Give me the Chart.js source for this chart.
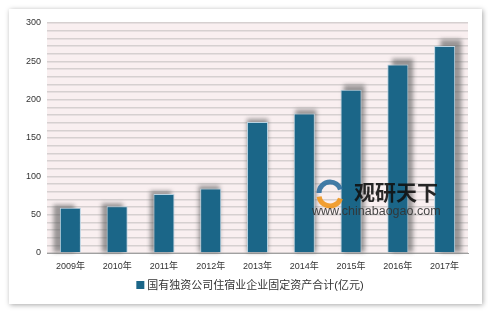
<!DOCTYPE html>
<html>
<head>
<meta charset="utf-8">
<script src="https://cdn.jsdelivr.net/npm/chart.js@4/dist/chart.umd.min.js"></script>
<style>
  html, body { margin: 0; padding: 0; background: #fff; }
  #wrap { width: 488px; height: 313px; position: relative; }
</style>
</head>
<body>
<div id="wrap"><canvas id="c" width="488" height="313"></canvas></div>
<script>
const years = ["2009年", "2010年", "2011年", "2012年", "2013年", "2014年", "2015年", "2016年", "2017年"];
const assets = [59, 61, 77, 84, 171, 182, 213, 246, 270];
const seriesName = "国有独资公司住宿业企业固定资产合计(亿元)";
const yMax = 300;
const yLabelStep = 50;

const barColor = "#1b6688";
const font = "'Liberation Sans', 'Noto Sans CJK SC', sans-serif";

// white card with soft grey edge + pink plot background
const backdrop = {
    id: "backdrop",
    beforeDraw(chart) {
        const c = chart.ctx;
        const a = chart.chartArea;
        c.save();
        c.fillStyle = "#fff";
        c.fillRect(0, 0, chart.width, chart.height);
        c.shadowColor = "rgba(0,0,0,0.35)";
        c.shadowBlur = 5;
        c.shadowOffsetX = 1;
        c.shadowOffsetY = 1;
        c.fillRect(9, 9, 473, 295);
        c.restore();
        c.fillStyle = "#f9eff0";
        c.fillRect(a.left, a.top, a.right - a.left, a.bottom - a.top);
    }
};

// slanted grey shadow behind each bar
const barShadow = {
    id: "barShadow",
    beforeDatasetsDraw(chart) {
        const c = chart.ctx;
        const meta = chart.getDatasetMeta(0);
        const mid = (meta.data.length - 1) / 2;
        c.save();
        c.filter = "blur(2px)";
        c.fillStyle = "rgba(90,90,90,0.6)";
        meta.data.forEach((bar, i) => {
            const dx = (i - mid) * 1.6;
            const dy = -3 - Math.max(0, i - mid) * 0.9;
            const w = bar.width;
            c.fillRect(bar.x - w / 2 + dx, bar.y + dy, w, bar.base - bar.y - dy);
        });
        c.restore();
    }
};

// legend + watermark
const extras = {
    id: "extras",
    afterDraw(chart) {
        const c = chart.ctx;
        c.save();
        c.font = "11px " + font;
        c.textBaseline = "middle";
        const tw = c.measureText(seriesName).width;
        const x0 = 250 - (tw + 11) / 2;
        c.fillStyle = barColor;
        c.fillRect(x0, 281, 8, 8);
        c.fillStyle = "#333";
        c.fillText(seriesName, x0 + 11, 285.5);

        // watermark
        c.globalAlpha = 0.9;
        c.lineWidth = 5;
        c.strokeStyle = "#2f6f9f";
        c.beginPath();
        c.arc(330, 193, 11, Math.PI * 1.0, Math.PI * 1.9);
        c.stroke();
        c.strokeStyle = "#f0961e";
        c.beginPath();
        c.arc(330, 195, 11, Math.PI * 0.1, Math.PI * 0.95);
        c.stroke();
        c.fillStyle = "#111";
        c.font = "bold 21px 'Noto Sans CJK SC', sans-serif";
        c.fillText("观研天下", 354, 192);
        c.fillStyle = "#333";
        c.font = "12.5px " + font;
        c.fillText("www.chinabaogao.com", 312, 212);
        c.restore();
    }
};

new Chart(document.getElementById("c"), {
    type: "bar",
    data: {
        labels: years,
        datasets: [{
            label: seriesName,
            data: assets,
            backgroundColor: barColor,
            borderColor: "#b9d3e2",
            borderWidth: 1,
            borderSkipped: "bottom",
            barPercentage: 0.9,
            categoryPercentage: 0.5
        }]
    },
    options: {
        responsive: false,
        animation: false,
        devicePixelRatio: 1,
        layout: { padding: { left: 10, right: 20, top: 23, bottom: 0 } },
        plugins: { legend: { display: false }, tooltip: { enabled: false } },
        scales: {
            x: {
                grid: { display: false, drawTicks: false },
                border: { color: "#a0a0a0", width: 1 },
                ticks: { color: "#333", font: { size: 9, family: font }, padding: 8 },
                afterFit(s) { s.height = 60; }
            },
            y: {
                min: 0,
                max: yMax,
                border: { display: false },
                grid: { color: "#d6d0d0", lineWidth: 1.5, drawTicks: false },
                ticks: {
                    stepSize: 10,
                    autoSkip: false,
                    color: "#333",
                    font: { size: 9, family: font },
                    padding: 6,
                    callback: v => (v % yLabelStep === 0 ? v : "")
                },
                afterFit(s) { s.width = 37; }
            }
        }
    },
    plugins: [backdrop, barShadow, extras]
});
</script>
</body>
</html>
